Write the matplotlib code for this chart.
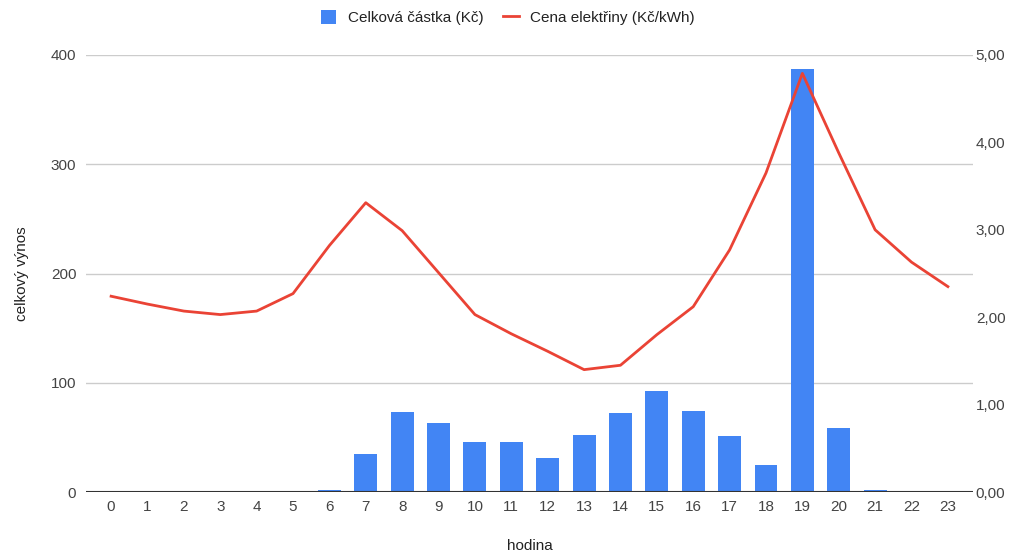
import matplotlib.pyplot as plt
from matplotlib.ticker import FuncFormatter

plt.rcParams['font.family'] = ['Liberation Sans', 'DejaVu Sans']

hours = list(range(24))
# celková částka (Kč)
amount = [0, 0, 0, 0, 0, 0, 1.5, 35, 73, 63, 46, 46, 31.5, 52, 72,
          92.7, 74.4, 51.5, 24.7, 387, 58.5, 2, 0, 0]
# cena elektřiny (Kč/kWh)
price = [2.24, 2.15, 2.07, 2.03, 2.07, 2.27, 2.82, 3.31, 2.99, 2.51, 2.03, 1.81,
         1.61, 1.40, 1.45, 1.80, 2.12, 2.77, 3.65, 4.79, 3.88, 3.00, 2.63, 2.35]

fig = plt.figure(figsize=(10.16, 5.57), dpi=100)
ax = fig.add_axes([86 / 1016, 1 - 492 / 557, (973 - 86) / 1016, (492 - 55) / 557])
ax2 = ax.twinx()

ax.set_zorder(1)
ax2.set_zorder(2)
ax.patch.set_visible(False)

ax.bar(hours, amount, width=0.63, color='#4285F4', zorder=3, label='Celková částka (Kč)')
ax2.plot(hours, price, color='#EA4335', lw=2, zorder=4, label='Cena elektřiny (Kč/kWh)')

ax.set_xlim(-0.69, 23.69)
ax.set_ylim(0, 400)
ax2.set_ylim(0, 5)
ax.set_yticks([0, 100, 200, 300, 400])
ax2.set_yticks([0, 1, 2, 3, 4, 5])
ax2.yaxis.set_major_formatter(FuncFormatter(lambda v, p: f'{v:.2f}'.replace('.', ',')))
ax.set_xticks(hours)

ax.grid(axis='y', color='#cccccc', lw=1, zorder=0)
for a in (ax, ax2):
    for s in a.spines.values():
        s.set_visible(False)
ax.axhline(0, color='#333333', lw=1.5, zorder=5)

fs = 11
ax.tick_params(axis='y', length=0, pad=7, labelsize=fs, labelcolor='#444444')
ax.tick_params(axis='x', length=0, pad=6, labelsize=fs, labelcolor='#444444')
ax2.tick_params(axis='y', length=0, pad=2, labelsize=fs, labelcolor='#444444')

ax.set_xlabel('hodina', fontsize=fs, color='#222222', labelpad=18)
ax.set_ylabel('celkový výnos', fontsize=fs, color='#222222', labelpad=16)

h1, l1 = ax.get_legend_handles_labels()
h2, l2 = ax2.get_legend_handles_labels()
fig.legend(h1 + h2, l1 + l2, loc='upper center', bbox_to_anchor=(0.5, 1.006), ncol=2,
           frameon=False, fontsize=fs, handlelength=1.0, handleheight=1.0,
           handletextpad=0.75, columnspacing=1.3, labelcolor='#222222')

fig.savefig('out.png', dpi=100)
